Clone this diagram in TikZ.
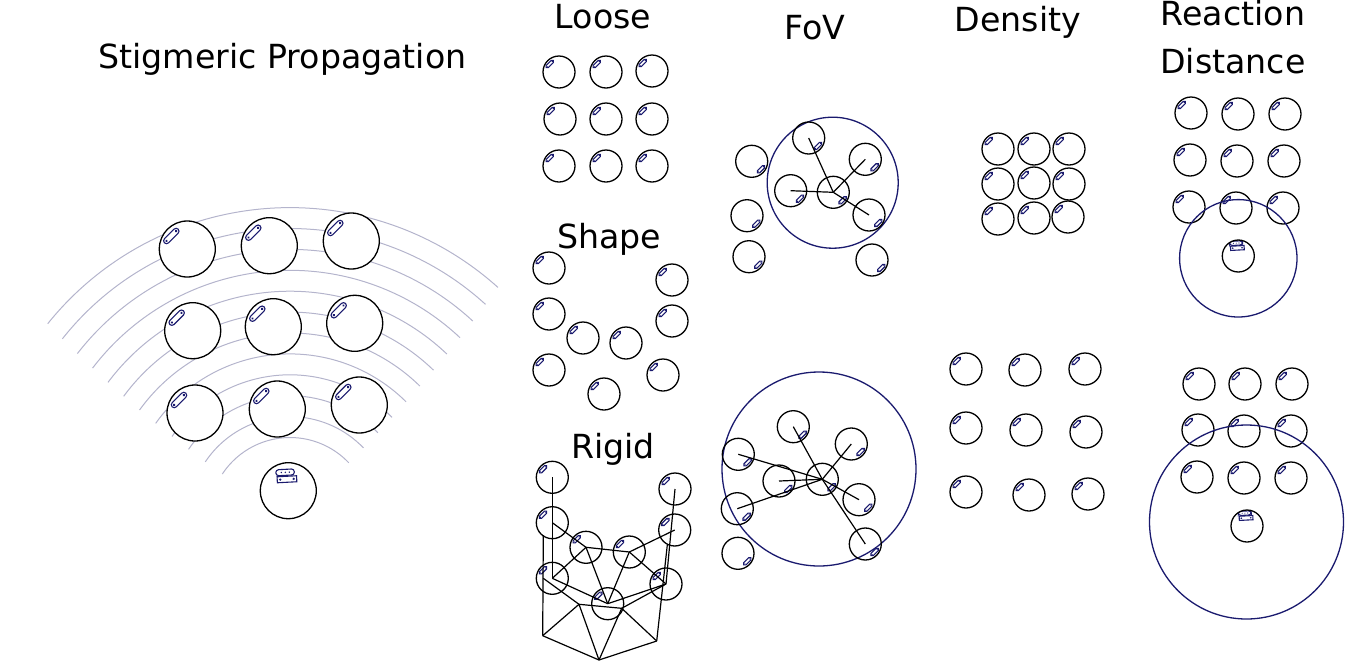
\documentclass[tikz,border=0pt]{standalone}
\usepackage{fontspec}
\setmainfont{DejaVu Sans}
\definecolor{navy}{HTML}{1A1A6E}
\definecolor{ripplegrey}{HTML}{B4B4CC}
% inside a path picture the origin is the centre of the node
\newcommand{\clipmark}[3]{%
	\begin{pgfscope}
		\pgftransformshift{\pgfpoint{#1pt}{-#2pt}}\pgftransformrotate{45}\pgftransformscale{#3}
		\draw[navy,line width=1.1pt]
			(-4,-1.7) arc[start angle=-90,end angle=-270,radius=1.7] -- (4,1.7) arc[start angle=90,end angle=-90,radius=1.7] -- cycle;
		\fill[navy] (-4,0) circle (.8) (4,0) circle (.8);
	\end{pgfscope}%
}
\newcommand{\sensormark}[1]{%
	\begin{pgfscope}
		\pgftransformscale{#1}\pgftransformrotate{3}
		\begin{scope}[navy,line width=1.1pt]
			\draw[rounded corners=2.8pt] (-11.5,-21.5) rectangle (7,-15.5);
			\draw (-10.5,-14.5) rectangle (9,-8.5);
			\fill (-7.5,-11.5) circle (1.3) (6,-11.5) circle (1.3) (-6,-18.5) circle (.8) (-2,-18.5) circle (.8) (2,-18.5) circle (.8);
		\end{scope}
	\end{pgfscope}%
}
\tikzset{
	title/.style={font=\fontsize{33.2}{48}\selectfont,align=center,anchor=base},
	ripple/.style={ripplegrey,line width=1pt},
	link/.style={line width=1.2pt},
	robot/.style={circle,draw,inner sep=0pt,line width=1.3pt},
	bigbot/.style={robot,fill=white,minimum size=56pt,path picture={\clipmark{-16}{-13}{1.7}}},
	smallbot/.style={robot,minimum size=32pt,path picture={\clipmark{-9.3}{-8}{.9}}},
	fovbot/.style={robot,minimum size=32pt,path picture={\clipmark{9.3}{8}{.9}}},
	bigbase/.style={robot,fill=white,minimum size=56pt,path picture={\sensormark{1}}},
	smallbase/.style={robot,minimum size=32pt,path picture={\sensormark{.7}}},
	viewzone/.style={circle,draw=navy,inner sep=0pt,line width=1.3pt},
}
\begin{document}
\begin{tikzpicture}[x=1pt,y=-1pt]
	\useasboundingbox (0,0) rectangle (1345,662);

	% titles
	\node(stigtitle) [title] at (282.5,68) {Stigmeric Propagation};
	\node(loosetitle) [title] at (603,28) {Loose};
	\node(fovtitle) [title] at (815,39) {FoV};
	\node(densitytitle) [title] at (1018,31) {Density};
	\node(reacttitle) [title,anchor=center] at (1233,37) {Reaction\\Distance};
	\node(shapetitle) [title] at (609,248) {Shape};
	\node(rigidtitle) [title] at (613,458) {Rigid};

	% stigmeric propagation
	\coordinate(wave) at (290,518.5);
	\foreach \i in {0,...,11} {
		\pgfmathsetmacro{\rad}{81+20.9*\i}
		\pgfmathsetmacro{\sa}{-146.7+.5*\i}
		\pgfmathsetmacro{\ea}{-43.5-.41*\i}
		\draw[ripple] (wave) ++(\sa:\rad) arc[start angle=\sa,end angle=\ea,radius=\rad];
	}
	\node(s1) [bigbot] at (187.3,249) {};
	\node(s2) [bigbot] at (269.3,245.7) {};
	\node(s3) [bigbot] at (351.3,241) {};
	\node(s4) [bigbot] at (192.7,330.7) {};
	\node(s5) [bigbot] at (273.3,326.7) {};
	\node(s6) [bigbot] at (354.7,323.3) {};
	\node(s7) [bigbot] at (195,413) {};
	\node(s8) [bigbot] at (277.3,409) {};
	\node(s9) [bigbot] at (359.3,405) {};
	\node(s0) [bigbase] at (288.3,490.7) {};

	% loose
	\node(l1) [smallbot] at (559,72) {};
	\node(l2) [smallbot] at (606,72) {};
	\node(l3) [smallbot] at (652,71) {};
	\node(l4) [smallbot] at (560,119) {};
	\node(l5) [smallbot] at (606,119) {};
	\node(l6) [smallbot] at (652,119) {};
	\node(l7) [smallbot] at (559,166) {};
	\node(l8) [smallbot] at (606,166) {};
	\node(l9) [smallbot] at (652,166) {};

	% shape
	\node(h1) [smallbot] at (549,268) {};
	\node(h2) [smallbot] at (672,280) {};
	\node(h3) [smallbot] at (549,314) {};
	\node(h4) [smallbot] at (672,321) {};
	\node(h5) [smallbot] at (583,338) {};
	\node(h6) [smallbot] at (626,343) {};
	\node(h7) [smallbot] at (549,370) {};
	\node(h8) [smallbot] at (663,375) {};
	\node(h9) [smallbot] at (604,394) {};

	% rigid
	\node(r1) [smallbot] at (552.3,477.3) {};
	\node(r2) [smallbot] at (675,489) {};
	\node(r3) [smallbot] at (552.3,522.7) {};
	\node(r4) [smallbot] at (674.7,530) {};
	\node(r5) [smallbot] at (586,547.3) {};
	\node(r6) [smallbot] at (629.3,552) {};
	\node(r7) [smallbot] at (552.3,578.3) {};
	\node(r8) [smallbot] at (666,584) {};
	\node(r9) [smallbot] at (607.7,603.7) {};
	\coordinate(p1) at (543.3,535);
	\coordinate(p2) at (543.3,578.3);
	\coordinate(p3) at (579,604.3);
	\coordinate(p4) at (621.7,608.3);
	\coordinate(p5) at (667.3,545);
	\coordinate(q1) at (542.7,635.7);
	\coordinate(q2) at (599,660);
	\coordinate(q3) at (656.7,641);

	\draw[link] (r1.center) -- (r7.center);
	\draw[link] (r3.center) -- (r5.center);
	\draw[link] (r5.center) -- (r6.center);
	\draw[link] (r6.center) -- (r4.center);
	\draw[link] (r5.center) -- (r7.center);
	\draw[link] (r5.center) -- (r9.center);
	\draw[link] (r6.center) -- (r9.center);
	\draw[link] (r6.center) -- (r8.center);
	\draw[link] (r2.center) -- (r8.center);
	\draw[link] (r7.center) -- (r9.center);
	\draw[link] (r9.center) -- (r8.center);
	\draw[link] (p1) -- (q1);
	\draw[link] (p2) -- (p3);
	\draw[link] (p3) -- (p4);
	\draw[link] (p4) -- (r8.center);
	\draw[link] (q1) -- (p3);
	\draw[link] (q1) -- (q2);
	\draw[link] (p3) -- (q2);
	\draw[link] (q2) -- (p4);
	\draw[link] (p4) -- (q3);
	\draw[link] (q2) -- (q3);
	\draw[link] (q3) -- (p5);

	% field of view, narrow
	\node(ftview) [viewzone,minimum size=131pt] at (832.7,182.7) {};
	\node(ft0) [fovbot] at (833.3,192.3) {};
	\node(ft1) [fovbot] at (751.7,161.3) {};
	\node(ft2) [fovbot] at (747,215.7) {};
	\node(ft3) [fovbot] at (749,256.7) {};
	\node(ft4) [fovbot] at (808.7,138) {};
	\node(ft5) [fovbot] at (865.3,159.3) {};
	\node(ft6) [fovbot] at (790.7,190.7) {};
	\node(ft7) [fovbot] at (869,215) {};
	\node(ft8) [fovbot] at (872,260) {};

	\draw[link] (ft0.center) -- (ft4.center);
	\draw[link] (ft0.center) -- (ft5.center);
	\draw[link] (ft0.center) -- (ft6.center);
	\draw[link] (ft0.center) -- (ft7.center);

	% field of view, wide
	\node(fbview) [viewzone,minimum size=194pt] at (819,469) {};
	\node(fb0) [fovbot] at (822.3,479.3) {};
	\node(fb1) [fovbot] at (738.3,454.3) {};
	\node(fb2) [fovbot] at (779,481) {};
	\node(fb3) [fovbot] at (737.3,508.7) {};
	\node(fb4) [fovbot] at (738,553.3) {};
	\node(fb5) [fovbot] at (793.3,426.7) {};
	\node(fb6) [fovbot] at (851.3,444) {};
	\node(fb7) [fovbot] at (859,499.7) {};
	\node(fb8) [fovbot] at (865.3,544) {};

	\draw[link] (fb0.center) -- (fb1.center);
	\draw[link] (fb0.center) -- (fb2.center);
	\draw[link] (fb0.center) -- (fb3.center);
	\draw[link] (fb0.center) -- (fb5.center);
	\draw[link] (fb0.center) -- (fb6.center);
	\draw[link] (fb0.center) -- (fb7.center);
	\draw[link] (fb0.center) -- (fb8.center);

	% density, high
	\node(dt1) [smallbot] at (998,149) {};
	\node(dt2) [smallbot] at (1034,149) {};
	\node(dt3) [smallbot] at (1069,149) {};
	\node(dt4) [smallbot] at (998,184) {};
	\node(dt5) [smallbot] at (1034,183) {};
	\node(dt6) [smallbot] at (1069,184) {};
	\node(dt7) [smallbot] at (998,219) {};
	\node(dt8) [smallbot] at (1034,218) {};
	\node(dt9) [smallbot] at (1068,217) {};

	% density, low
	\node(db1) [smallbot] at (966,369) {};
	\node(db2) [smallbot] at (1025,370) {};
	\node(db3) [smallbot] at (1085,369) {};
	\node(db4) [smallbot] at (966,428) {};
	\node(db5) [smallbot] at (1026,430) {};
	\node(db6) [smallbot] at (1086,432) {};
	\node(db7) [smallbot] at (966,492) {};
	\node(db8) [smallbot] at (1029,495) {};
	\node(db9) [smallbot] at (1088,494) {};

	% reaction distance, short
	\node(at1) [smallbot] at (1191,113) {};
	\node(at2) [smallbot] at (1238,114) {};
	\node(at3) [smallbot] at (1285,114) {};
	\node(at4) [smallbot] at (1190,160) {};
	\node(at5) [smallbot] at (1237,161) {};
	\node(at6) [smallbot] at (1284,161) {};
	\node(at7) [smallbot] at (1189,207) {};
	\node(at8) [smallbot] at (1236,208) {};
	\node(at9) [smallbot] at (1283,208) {};
	\node(at0) [smallbase] at (1238.3,256) {};
	\node(atview) [viewzone,minimum size=117.4pt] at (1238.3,258.3) {};

	% reaction distance, long
	\node(ab1) [smallbot] at (1199,384) {};
	\node(ab2) [smallbot] at (1245,384) {};
	\node(ab3) [smallbot] at (1292,384) {};
	\node(ab4) [smallbot] at (1198,430) {};
	\node(ab5) [smallbot] at (1244,431) {};
	\node(ab6) [smallbot] at (1291,431) {};
	\node(ab7) [smallbot] at (1197,477) {};
	\node(ab8) [smallbot] at (1244,478) {};
	\node(ab9) [smallbot] at (1291,478) {};
	\node(ab0) [smallbase] at (1247,526) {};
	\node(abview) [viewzone,minimum size=194pt] at (1246.5,522) {};
\end{tikzpicture}
\end{document}
